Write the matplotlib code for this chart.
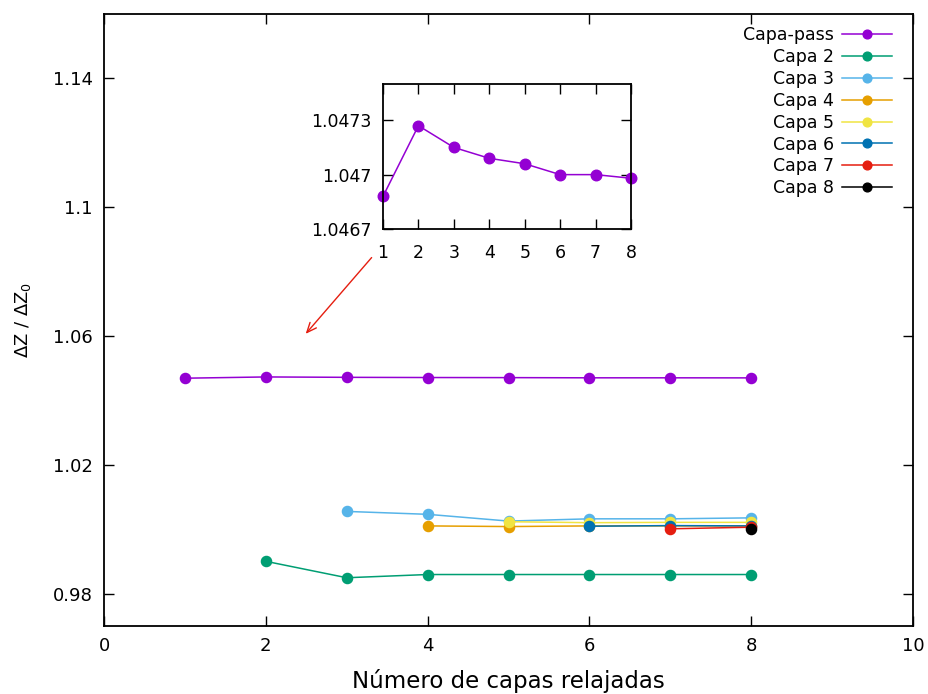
import matplotlib
matplotlib.use("Agg")
import matplotlib.pyplot as plt

# relaxation results: DeltaZ / DeltaZ0 vs number of relaxed layers
n_capas = [1, 2, 3, 4, 5, 6, 7, 8]

capa_pass = [1.04688, 1.04727, 1.04715, 1.04709, 1.04706, 1.04700, 1.04700, 1.04698]
capa_2 = [0.9900, 0.9849, 0.9859, 0.9859, 0.9859, 0.9859, 0.9859]
capa_3 = [1.0055, 1.0046, 1.0025, 1.0032, 1.0032, 1.0035]
capa_4 = [1.0010, 1.0008, 1.0010, 1.0010, 1.0010]
capa_5 = [1.0023, 1.0020, 1.0021, 1.0021]
capa_6 = [1.0009, 1.0011, 1.0010]
capa_7 = [1.0001, 1.0006]
capa_8 = [1.0001]

series = [
    ("Capa-pass", capa_pass, "#9400d3"),
    ("Capa 2", capa_2, "#009e73"),
    ("Capa 3", capa_3, "#56b4e9"),
    ("Capa 4", capa_4, "#e69f00"),
    ("Capa 5", capa_5, "#f0e442"),
    ("Capa 6", capa_6, "#0072b2"),
    ("Capa 7", capa_7, "#e51e10"),
    ("Capa 8", capa_8, "#000000"),
]

fig = plt.figure(figsize=(9.29, 6.94), dpi=100)
ax = fig.add_axes([0.112, 0.0984, 0.8708, 0.8814])

for label, vals, color in series:
    xs = n_capas[len(n_capas) - len(vals):]
    ax.plot(xs, vals, "-o", color=color, lw=1.1, ms=7.3, label=label)

ax.set_xlim(0, 10)
ax.set_ylim(0.97, 1.16)
ax.set_xticks([0, 2, 4, 6, 8, 10])
ax.set_yticks([0.98, 1.02, 1.06, 1.10, 1.14])
ax.set_yticklabels(["0.98", "1.02", "1.06", "1.1", "1.14"])
ax.tick_params(direction="in", length=7, width=1, top=True, right=True,
               labelsize=13, pad=8)
for s in ax.spines.values():
    s.set_linewidth(1.3)
ax.set_xlabel("Número de capas relajadas", fontsize=16.5, labelpad=10)
ax.set_ylabel("ΔZ / ΔZ$_0$", fontsize=13, labelpad=14)

leg = ax.legend(loc="upper right", bbox_to_anchor=(892 / 929, 1 - 26 / 694),
                bbox_transform=fig.transFigure, frameon=False, markerfirst=False,
                fontsize=12.5, handlelength=2.9, handletextpad=0.45,
                labelspacing=0.225, borderpad=0, borderaxespad=0)
for h in leg.legend_handles:
    h.set_markersize(6.3)

ax.annotate("", xy=(2.47, 1.06), xytext=(3.33, 1.085),
            arrowprops=dict(arrowstyle="->,head_length=0.7,head_width=0.3",
                            color="#e51e10", lw=1.0))

# zoomed view of the Capa-pass series
ins = fig.add_axes([383 / 929, 1 - 229 / 694, 248 / 929, 145 / 694])
ins.plot(n_capas, capa_pass, "-o", color="#9400d3", lw=1.1, ms=7.6, clip_on=False)
ins.set_xlim(1, 8)
ins.set_ylim(1.0467, 1.0475)
ins.set_xticks(n_capas)
ins.set_yticks([1.0467, 1.0470, 1.0473])
ins.set_yticklabels(["1.0467", "1.047", "1.0473"])
ins.tick_params(direction="in", length=7, width=1, top=True, right=True,
                labelsize=12.5, pad=8)
ins.tick_params(axis="x", pad=11)
for s in ins.spines.values():
    s.set_linewidth(1.3)
ins.set_zorder(3)

fig.savefig("out.png", dpi=100)
